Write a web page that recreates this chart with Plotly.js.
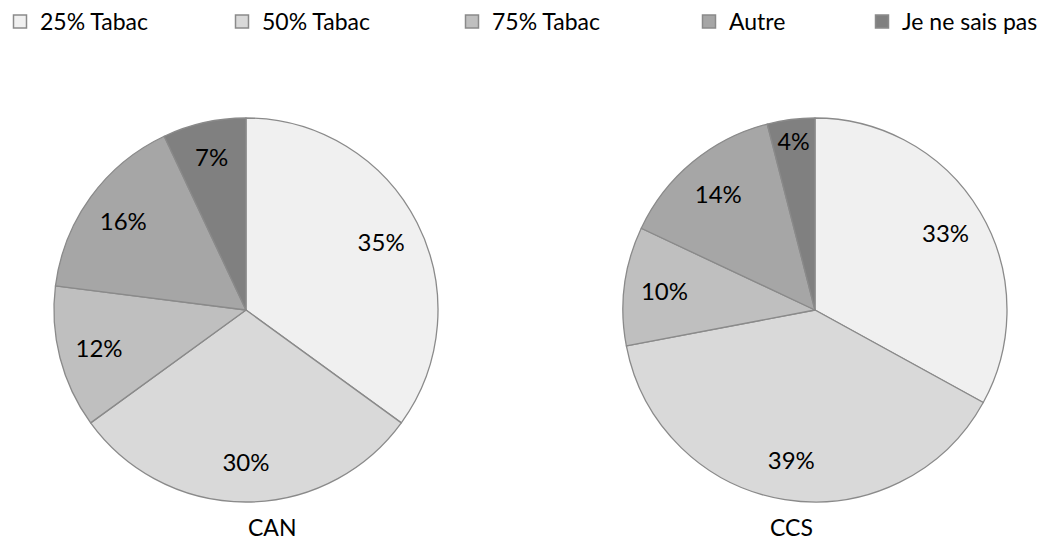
<!DOCTYPE html>
<html><head><meta charset="utf-8">
<script src="https://cdn.plot.ly/plotly-3.0.1.min.js"></script>
<style>html,body{margin:0;padding:0;background:#fff}#chart{width:1060px;height:548px}</style>
</head><body><div id="chart"></div>
<script>
var labels = ['25% Tabac', '50% Tabac', '75% Tabac', 'Autre', 'Je ne sais pas'];
var groups = ['CAN', 'CCS'];
var canValues = [35, 30, 12, 16, 7];
var ccsValues = [33, 39, 10, 14, 4];
var colors = ['#f0f0f0', '#d9d9d9', '#bfbfbf', '#a6a6a6', '#808080'];

var FONT = 'Lato, Carlito, Calibri, sans-serif';
var LINE = '#8a8a8a';
var domY = [0.0839, 0.7847];
var domains = [{x: [0.0509, 0.4132], y: domY}, {x: [0.5877, 0.95], y: domY}];

function basePie(vals, dom, name) {
  return {
    type: 'pie', name: name, labels: labels, values: vals,
    sort: false, direction: 'clockwise', rotation: 0,
    marker: {colors: colors, line: {color: LINE, width: 1.3}},
    textinfo: 'none', hoverinfo: 'label+value', showlegend: false,
    domain: dom
  };
}
function textPie(vals, dom, name) {
  return {
    type: 'pie', name: name, labels: labels, values: vals,
    sort: false, direction: 'clockwise', rotation: 0, hole: 0.58,
    marker: {colors: labels.map(function(){return 'rgba(0,0,0,0)';}), line: {width: 0}},
    texttemplate: '%{value}%', textposition: 'inside', insidetextorientation: 'horizontal',
    textfont: {family: FONT, size: 24, color: '#000'},
    hoverinfo: 'skip', showlegend: false,
    domain: dom
  };
}
var data = [
  basePie(canValues, domains[0], groups[0]),
  basePie(ccsValues, domains[1], groups[1]),
  textPie(canValues, domains[0], groups[0]),
  textPie(ccsValues, domains[1], groups[1])
];
// legend entries, one legend per item so they can be spread like the original
var legendX = [0, 222, 452, 689, 862];
var layout = {
  width: 1060, height: 548,
  margin: {l: 0, r: 0, t: 0, b: 0},
  paper_bgcolor: '#fff', plot_bgcolor: 'rgba(0,0,0,0)',
  font: {family: FONT, size: 23, color: '#000'},
  showlegend: true,
  xaxis: {visible: false, domain: [0, 1]},
  yaxis: {visible: false, domain: [0, 1]},
  annotations: [
    {text: groups[0], x: 0.232, y: 21 / 548, xref: 'paper', yref: 'paper', yanchor: 'middle', showarrow: false, font: {family: FONT, size: 23}},
    {text: groups[1], x: 0.769, y: 21 / 548, xref: 'paper', yref: 'paper', yanchor: 'middle', showarrow: false, font: {family: FONT, size: 23}}
  ]
};
labels.forEach(function(lab, i) {
  var key = i === 0 ? 'legend' : 'legend' + (i + 1);
  data.push({
    type: 'scatter', x: [null], y: [null], mode: 'markers', name: lab,
    legend: key, showlegend: true, hoverinfo: 'skip',
    marker: {symbol: 'square', size: 13, color: colors[i], line: {color: LINE, width: 1.5}}
  });
  layout[key] = {orientation: 'h', x: legendX[i] / 1060, y: 1, xanchor: 'left', yanchor: 'top',
    bgcolor: 'rgba(0,0,0,0)', borderwidth: 0, font: {family: FONT, size: 23, color: '#000'}, itemclick: false};
});
Plotly.newPlot('chart', data, layout, {displayModeBar: false, staticPlot: true});
</script></body></html>
